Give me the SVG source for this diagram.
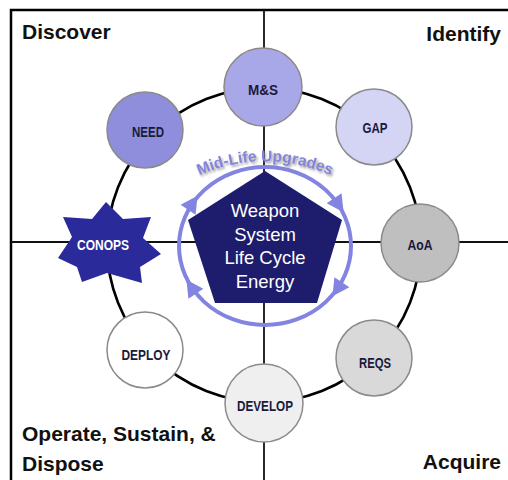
<svg xmlns="http://www.w3.org/2000/svg" xmlns:xlink="http://www.w3.org/1999/xlink" width="508" height="480" viewBox="0 0 508 480">
<defs>
<style>
.quad{font-family:"Liberation Sans",Arial,sans-serif;font-weight:bold;font-size:21px;fill:#111;}
.node{stroke:#8a8a8a;stroke-width:1.5;}
.lbl{font-family:"Liberation Sans",Arial,sans-serif;font-weight:bold;font-size:14px;fill:#1a1a3c;text-anchor:middle;}
.core{font-family:"Liberation Sans",Arial,sans-serif;font-size:18.5px;fill:#ffffff;text-anchor:middle;}
.line{stroke:#111;stroke-width:1.8;fill:none;}
</style>
<filter id="sh" x="-10%" y="-30%" width="120%" height="160%">
<feDropShadow dx="1.5" dy="2" stdDeviation="1" flood-color="#8a8a8a" flood-opacity="0.8"/>
</filter>
<path id="arrowhead" d="M 10 0 L -7 -9 L -7 9 Z" fill="#8383e2"/>
<path id="txtarc" d="M 180 186 A 158 158 0 0 1 350 186"/>
</defs>
<rect width="508" height="480" fill="#ffffff"/>
<g id="frame">
<path d="M 11 480 L 11 10 L 508 10" fill="none" stroke="#000" stroke-width="2.5"/>
</g>
<g id="connectors">
<line class="line" x1="264" y1="10" x2="264" y2="480"/>
<line class="line" x1="11" y1="242" x2="508" y2="242"/>
<circle cx="264" cy="245" r="157" fill="none" stroke="#000" stroke-width="2.6"/>
</g>
<g id="quadrant-labels">
<text class="quad" x="22" y="39">Discover</text>
<text class="quad" x="501" y="41" text-anchor="end">Identify</text>
<text class="quad" x="22" y="441">Operate, Sustain, &amp;</text>
<text class="quad" x="22" y="471">Dispose</text>
<text class="quad" x="501" y="469" text-anchor="end">Acquire</text>
</g>
<g id="node-ms">
<circle class="node" cx="263" cy="87" r="39" fill="#a8a7e7"/>
<text class="lbl" x="263" y="95" textLength="30" lengthAdjust="spacingAndGlyphs">M&amp;S</text>
</g>
<g id="node-gap">
<circle class="node" cx="374" cy="127" r="38" fill="#d4d4f5"/>
<text class="lbl" x="375" y="132.5" textLength="25" lengthAdjust="spacingAndGlyphs">GAP</text>
</g>
<g id="node-aoa">
<circle class="node" cx="420" cy="243" r="39" fill="#bfbfbf"/>
<text class="lbl" x="420" y="250" textLength="25" lengthAdjust="spacingAndGlyphs">AoA</text>
</g>
<g id="node-reqs">
<circle class="node" cx="374" cy="358" r="38" fill="#d9d9d9"/>
<text class="lbl" x="375" y="367.5" textLength="32" lengthAdjust="spacingAndGlyphs">REQS</text>
</g>
<g id="node-develop">
<circle class="node" cx="264" cy="403" r="39" fill="#efefef"/>
<text class="lbl" x="265" y="410.5" textLength="56" lengthAdjust="spacingAndGlyphs">DEVELOP</text>
</g>
<g id="node-deploy">
<circle class="node" cx="145" cy="350" r="38" fill="#ffffff"/>
<text class="lbl" x="146" y="360" textLength="49" lengthAdjust="spacingAndGlyphs">DEPLOY</text>
</g>
<g id="node-conops">
<polygon points="106,202 123,219 151,217 143,238 161,254 140,267 142,283 107,273 82,282 77,267 58,258 72,237 63,217 92,219" fill="#2b2a9a"/>
<text class="lbl" x="103" y="250" style="fill:#ffffff" textLength="52" lengthAdjust="spacingAndGlyphs">CONOPS</text>
</g>
<g id="node-need">
<circle class="node" cx="145" cy="130" r="38" fill="#8f8edc"/>
<text class="lbl" x="148" y="137" textLength="32" lengthAdjust="spacingAndGlyphs">NEED</text>
</g>
<g id="core">
<polygon points="265,171 342,220 317,303 215,303 188,220" fill="#1e1c6c"/>
<text class="core" x="265" y="217">Weapon</text>
<text class="core" x="265" y="241">System</text>
<text class="core" x="265" y="264">Life Cycle</text>
<text class="core" x="265" y="288">Energy</text>
</g>
<g id="upgrade-cycle">
<ellipse cx="265" cy="246" rx="86" ry="79" fill="none" stroke="#8383e2" stroke-width="4"/>
<use xlink:href="#arrowhead" transform="translate(338,204) rotate(56)"/>
<use xlink:href="#arrowhead" transform="translate(338,288) rotate(124)"/>
<use xlink:href="#arrowhead" transform="translate(192,288) rotate(236)"/>
<use xlink:href="#arrowhead" transform="translate(192,204) rotate(304)"/>
<text font-family="Liberation Sans, Arial, sans-serif" font-weight="bold" font-size="15.5" fill="#8484dc" filter="url(#sh)"><textPath xlink:href="#txtarc" startOffset="50%" text-anchor="middle">Mid-Life Upgrades</textPath></text>
</g>
</svg>
